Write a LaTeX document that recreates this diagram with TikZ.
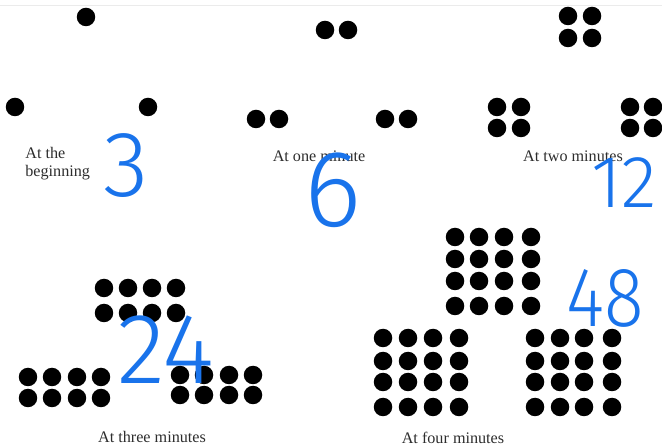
\documentclass[tikz,border=0pt]{standalone}
\usepackage{fontspec}
\setmainfont{Liberation Serif}
\newfontfamily\handfont{Fira Sans Light}
\definecolor{inkblue}{RGB}{25,115,235}
\definecolor{labelgray}{RGB}{45,45,45}

\begin{document}
\begin{tikzpicture}[
  x=0.02cm, y=-0.02cm,
  dot/.style={circle, fill=black, inner sep=0pt, minimum size=0.37cm},
  caption/.style={text=labelgray, font=\fontsize{9.2}{10.2}\selectfont, inner sep=0pt},
  tally/.style={text=inkblue, inner sep=0pt}
]
\useasboundingbox (0,0) rectangle (662,448);
\draw [black!8] (0,5) -- (662,5);

% at the beginning
\node (b-top) [dot] at (86,17) {};
\node (b-left) [dot] at (15,107) {};
\node (b-right) [dot] at (148,107) {};
\node (cap0) [caption, anchor=west, align=left] at (25,164) {At the\\beginning};
\node (n0) [tally, font=\handfont\fontsize{53}{53}\selectfont] at (126,166) {3};

% at one minute
\foreach \x [count=\i] in {325,348} \node (m1-top-\i) [dot] at (\x,30) {};
\foreach \x [count=\i] in {256,279} \node (m1-left-\i) [dot] at (\x,119) {};
\foreach \x [count=\i] in {385,408} \node (m1-right-\i) [dot] at (\x,119) {};
\node (cap1) [caption] at (319,156) {At one minute};
\node (n1) [tally, font=\handfont\fontsize{62}{62}\selectfont] at (333,190) {6};

% at two minutes
\foreach \x [count=\i] in {568,592}
  \foreach \y [count=\j] in {16,38} \node (m2-top-\i-\j) [dot] at (\x,\y) {};
\foreach \x [count=\i] in {497,521}
  \foreach \y [count=\j] in {107,128} \node (m2-left-\i-\j) [dot] at (\x,\y) {};
\foreach \x [count=\i] in {630,653}
  \foreach \y [count=\j] in {107,128} \node (m2-right-\i-\j) [dot] at (\x,\y) {};
\node (cap2) [caption] at (573,156) {At two minutes};
\node (n2) [tally, font=\handfont\fontsize{42}{42}\selectfont] at (624,183) {12};

% at three minutes
\foreach \x [count=\i] in {104,128,152,176}
  \foreach \y [count=\j] in {288,313} \node (m3-top-\i-\j) [dot] at (\x,\y) {};
\foreach \x [count=\i] in {28,52,77,101}
  \foreach \y [count=\j] in {377,398} \node (m3-left-\i-\j) [dot] at (\x,\y) {};
\foreach \x [count=\i] in {180,204,229,253}
  \foreach \y [count=\j] in {375,395} \node (m3-right-\i-\j) [dot] at (\x,\y) {};
\node (cap3) [caption] at (152,437) {At three minutes};
\node (n3) [tally, font=\handfont\fontsize{57}{57}\selectfont] at (166,350) {24};

% at four minutes
\foreach \x [count=\i] in {455,479,504,531}
  \foreach \y [count=\j] in {237,259,281,306} \node (m4-top-\i-\j) [dot] at (\x,\y) {};
\foreach \x [count=\i] in {383,408,433,459}
  \foreach \y [count=\j] in {338,361,382,407} \node (m4-left-\i-\j) [dot] at (\x,\y) {};
\foreach \x [count=\i] in {535,560,584,612}
  \foreach \y [count=\j] in {338,361,382,407} \node (m4-right-\i-\j) [dot] at (\x,\y) {};
\node (cap4) [caption] at (453,438) {At four minutes};
\node (n4) [tally, xscale=0.87, font=\handfont\fontsize{48}{48}\selectfont] at (605,298) {48};

\end{tikzpicture}
\end{document}
